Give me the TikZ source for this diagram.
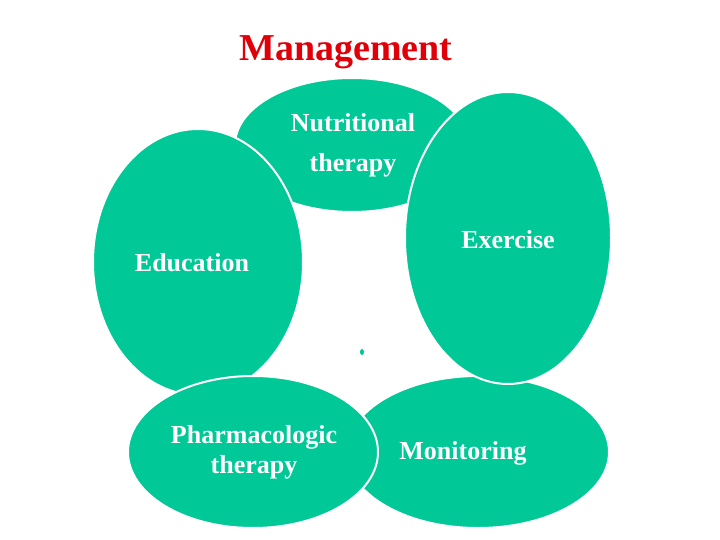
\documentclass[tikz,border=0pt]{standalone}
\usepackage{fontspec}
\setmainfont{Liberation Serif}
\definecolor{teal1}{HTML}{00C896}
\definecolor{titlered}{HTML}{E0000A}
\begin{document}
\begin{tikzpicture}[x=1pt,y=-1pt,
  blob/.style={fill=teal1,draw=white,line width=2pt},
  lab/.style={font=\bfseries\fontsize{26}{30}\selectfont,align=center,text=white}]
\useasboundingbox (0,0) rectangle (720,540);
\fill[white] (0,0) rectangle (720,540);
\node[font=\bfseries\fontsize{38}{44}\selectfont,text=titlered] (title) at (346,52) {Management};
\draw[blob] (352,145) ellipse (117 and 67);
\draw[blob] (478,452) ellipse (131 and 76);
\draw[blob] (508,238) ellipse (103 and 146);
\draw[blob] (198,262) ellipse (105 and 133);
\draw[blob] (253,452) ellipse (125 and 76);
\node[lab] (nut) at (353,145) {Nutritional\\[10pt]therapy};
\node[lab] (ex) at (508,240) {Exercise};
\node[lab] (ed) at (192,263) {Education};
\node[lab] (ph) at (254,452) {Pharmacologic\\therapy};
\node[lab] (mo) at (463,453) {Monitoring};
\fill[teal1] (362,352) ellipse (2 and 3);
\end{tikzpicture}
\end{document}
